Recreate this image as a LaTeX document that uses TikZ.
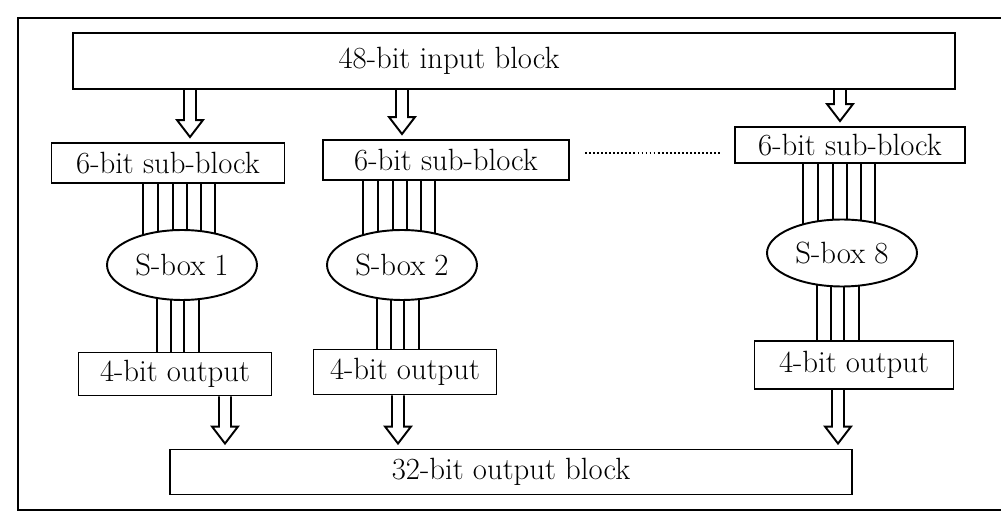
\documentclass[tikz,border=0pt]{standalone}
\usepackage{tikz}
\usetikzlibrary{calc,positioning,shapes.geometric,backgrounds}
\tikzset{
  blockbox/.style={draw, line width=1.1pt, inner sep=0pt, font=\fontsize{17.5}{20}\selectfont},
  sboxnd/.style={draw, ellipse, fill=white, line width=1.1pt, inner sep=0pt, minimum width=3cm, minimum height=1.4cm, font=\fontsize{17.5}{20}\selectfont},
  wireln/.style={line width=0.9pt},
  hollowln/.style={line width=1.1pt, line join=miter},
  dotln/.style={dash pattern=on 1pt off 1.3pt, line width=1pt},
  frameln/.style={line width=1.4pt},
}
\newcommand{\hollowarr}[3]{%
  \draw[hollowln] ($(#2.south -| #1)+(-6,0)$) -- ($(#3.north -| #1)+(-6,-22)$)
    -- ($(#3.north -| #1)+(-13,-22)$) -- ($(#3.north -| #1)+(0,-5)$)
    -- ($(#3.north -| #1)+(13,-22)$) -- ($(#3.north -| #1)+(6,-22)$)
    -- ($(#2.south -| #1)+(6,0)$);
}
\newcommand{\wirebus}[3]{%
  \foreach \d in {#3} {
    \coordinate (w) at ($(#2.center)+(\d,0)$);
    \draw[wireln] (w |- #1) -- (w);
  }
}

\begin{document}
\begin{tikzpicture}[x=0.02cm, y=-0.02cm]
    \useasboundingbox (0,0) rectangle (1001,513);
    \draw[frameln] (1001,18) -- (18,18) -- (18,510) -- (1001,510);
    % input
    \node[blockbox, minimum width=17.64cm, minimum height=1.12cm] (in) at (514,61) {48-bit input block\hspace*{2.6cm}\mbox{}};
    \node[blockbox, minimum width=4.66cm, minimum height=0.8cm] (sb1) at (168,163) {6-bit sub-block};
    \node[blockbox, minimum width=4.92cm, minimum height=0.8cm] (sb2) at (446,160) {6-bit sub-block};
    \node[blockbox, minimum width=4.6cm, minimum height=0.72cm] (sb3) at (850,145) {6-bit sub-block};
    \coordinate (d1) at (585,153);
    \coordinate (d2) at (722,153);
    \draw[dotln] (d1) -- (d2);
    % s-boxes
    \node[sboxnd] (s1) at (182,265) {S-box 1};
    \node[sboxnd] (s2) at (402,265) {S-box 2};
    \node[sboxnd, minimum height=1.34cm] (s8) at (842,253) {S-box 8};
    % outputs
    \node[blockbox, minimum width=3.86cm, minimum height=0.86cm] (o1) at (175,374) {4-bit output};
    \node[blockbox, minimum width=3.66cm, minimum height=0.9cm] (o2) at (405,372) {4-bit output};
    \node[blockbox, minimum width=3.98cm, minimum height=0.96cm] (o3) at (854,365) {4-bit output};
    \node[blockbox, minimum width=13.64cm, minimum height=0.9cm] (out) at (511,472) {32-bit output block};
    % wires
    \begin{scope}[on background layer]
      \wirebus{sb1.south}{s1}{-39,-24,-9,5,19,33}
      \wirebus{sb2.south}{s2}{-39,-24,-9,5,19,33}
      \wirebus{sb3.south}{s8}{-39,-24,-9,5,19,33}
      \wirebus{o1.north}{s1}{-25,-11,2,17}
      \wirebus{o2.north}{s2}{-25,-11,2,17}
      \wirebus{o3.north}{s8}{-25,-11,2,17}
    \end{scope}
    % arrows
    \coordinate (a1) at (190,0);
    \coordinate (a2) at (402,0);
    \coordinate (a3) at (840,0);
    \coordinate (b1) at (225,0);
    \coordinate (b2) at (398,0);
    \coordinate (b3) at (838,0);
    \hollowarr{a1}{in}{sb1}
    \hollowarr{a2}{in}{sb2}
    \hollowarr{a3}{in}{sb3}
    \hollowarr{b1}{o1}{out}
    \hollowarr{b2}{o2}{out}
    \hollowarr{b3}{o3}{out}
  \end{tikzpicture}
\end{document}
